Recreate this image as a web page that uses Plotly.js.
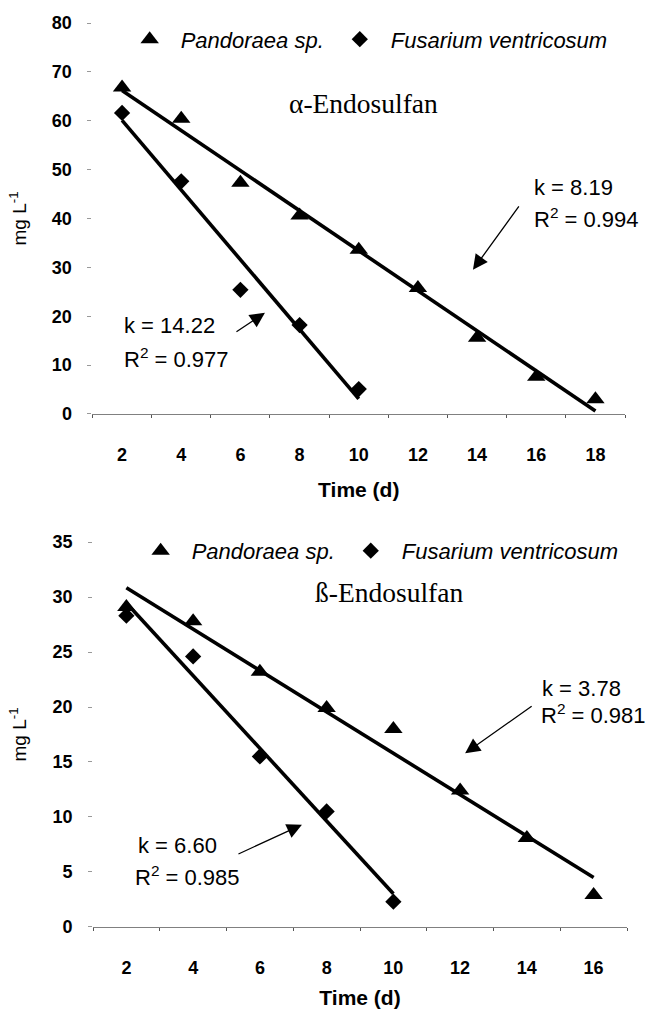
<!DOCTYPE html>
<html>
<head>
<meta charset="utf-8">
<script src="https://cdn.plot.ly/plotly-3.0.1.min.js"></script>
<style>html,body{margin:0;padding:0;background:#fff;}</style>
</head>
<body>
<div id="chart" style="width:645px;height:1009px;"></div>
<script>
// ---- data ----
const seriesNames = ['Pandoraea sp.', 'Fusarium ventricosum'];

const alphaTimePandoraea = [2, 4, 6, 8, 10, 12, 14, 16, 18];
const alphaPandoraea     = [66.8, 60.4, 47.3, 40.6, 33.6, 25.8, 15.6, 7.6, 3.0];
const alphaTimeFusarium  = [2, 4, 6, 8, 10];
const alphaFusarium      = [61.6, 47.6, 25.4, 18.2, 5.1];

const betaTimePandoraea  = [2, 4, 6, 8, 10, 12, 14, 16];
const betaPandoraea      = [29.1, 27.8, 23.2, 19.9, 18.0, 12.4, 8.1, 2.9];
const betaTimeFusarium   = [2, 4, 6, 8, 10];
const betaFusarium       = [28.3, 24.6, 15.5, 10.5, 2.3];

const alphaTicks = [2, 4, 6, 8, 10, 12, 14, 16, 18];
const betaTicks  = [2, 4, 6, 8, 10, 12, 14, 16];
const alphaYTicks = [0, 10, 20, 30, 40, 50, 60, 70, 80];
const betaYTicks  = [0, 5, 10, 15, 20, 25, 30, 35];

const panelTitles = ['\u03b1-Endosulfan', '\u00df-Endosulfan'];
const alphaStats = {pand: ['k = 8.19', 'R<sup>2</sup> = 0.994'], fus: ['k = 14.22', 'R<sup>2</sup> = 0.977']};
const betaStats  = {pand: ['k = 3.78', 'R<sup>2</sup> = 0.981'], fus: ['k = 6.60', 'R<sup>2</sup> = 0.985']};

// ---- helpers ----
function fit(xs, ys) {
  const n = xs.length;
  const mx = xs.reduce((a, b) => a + b, 0) / n;
  const my = ys.reduce((a, b) => a + b, 0) / n;
  let sxy = 0, sxx = 0;
  for (let i = 0; i < n; i++) { sxy += (xs[i] - mx) * (ys[i] - my); sxx += (xs[i] - mx) * (xs[i] - mx); }
  const b = sxy / sxx, a = my - b * mx;
  const x0 = xs[0], x1 = xs[n - 1];
  return {x: [x0, x1], y: [a + b * x0, a + b * x1]};
}
function edges(ticks) { const e = ticks.map(t => t - 1); e.push(ticks[ticks.length - 1] + 1); return e; }

const SANS = '"Liberation Sans", Arial, sans-serif';
const SERIF = '"Liberation Serif", "Times New Roman", serif';

function markerTrace(x, y, name, sym, size, xa, ya, leg) {
  return {x: x, y: y, name: name, type: 'scatter', mode: 'markers', xaxis: xa, yaxis: ya, legend: leg,
          marker: {symbol: sym, size: size, color: '#000'}, cliponaxis: false};
}
function lineTrace(f, xa, ya) {
  return {x: f.x, y: f.y, type: 'scatter', mode: 'lines', xaxis: xa, yaxis: ya, showlegend: false,
          line: {color: '#000', width: 3.6}, hoverinfo: 'skip'};
}

const data = [
  lineTrace(fit(alphaTimePandoraea, alphaPandoraea), 'x', 'y'),
  lineTrace(fit(alphaTimeFusarium, alphaFusarium), 'x', 'y'),
  markerTrace(alphaTimePandoraea, alphaPandoraea, seriesNames[0], 'triangle-up', 16, 'x', 'y', 'legend'),
  markerTrace(alphaTimeFusarium, alphaFusarium, seriesNames[1], 'diamond', 12.5, 'x', 'y', 'legend'),
  lineTrace(fit(betaTimePandoraea, betaPandoraea), 'x2', 'y2'),
  lineTrace(fit(betaTimeFusarium, betaFusarium), 'x2', 'y2'),
  markerTrace(betaTimePandoraea, betaPandoraea, seriesNames[0], 'triangle-up', 16, 'x2', 'y2', 'legend2'),
  markerTrace(betaTimeFusarium, betaFusarium, seriesNames[1], 'diamond', 12.5, 'x2', 'y2', 'legend2')
];

function xAxis(ticks, domain, anchor) {
  return {
    domain: domain, anchor: anchor, range: [ticks[0] - 1, ticks[ticks.length - 1] + 1],
    tickmode: 'array', tickvals: ticks, ticktext: ticks.map(String), ticks: '',
    tickfont: {family: SANS, size: 18, weight: 'bold', color: '#000'},
    ticklabelstandoff: 24,
    showline: true, linecolor: '#808080', linewidth: 1.2,
    showgrid: false, zeroline: false,
    minor: {tickvals: edges(ticks), ticks: 'outside', ticklen: 3, tickcolor: '#555', tickwidth: 1, showgrid: false},
    title: {text: 'Time (d)', font: {family: SANS, size: 21, weight: 'bold', color: '#000'}, standoff: 18}
  };
}
function longTickAxis(ticks, overlay, anchor, longVals) {
  return {overlaying: overlay, anchor: anchor, side: 'bottom', range: [ticks[0] - 1, ticks[ticks.length - 1] + 1],
          tickmode: 'array', tickvals: longVals, ticks: 'outside', ticklen: 7, tickwidth: 1.2, tickcolor: '#444',
          showticklabels: false, showline: false, showgrid: false, zeroline: false};
}
function yAxis(ticks, domain, anchor) {
  return {
    domain: domain, anchor: anchor, range: [ticks[0], ticks[ticks.length - 1]],
    tickmode: 'array', tickvals: ticks, ticks: 'outside', ticklen: 4, tickcolor: '#999', tickwidth: 1,
    tickfont: {family: SANS, size: 18, weight: 'bold', color: '#000'},
    ticklabelstandoff: 12,
    showline: false, showgrid: false, zeroline: false,
    title: {text: 'mg L<sup>-1</sup>', font: {family: SANS, size: 19, color: '#000'}, standoff: 20}
  };
}

const statFont = {family: SANS, size: 22, color: '#000'};
function txt(text, x, y, xr, yr) {
  return {text: text, x: x, y: y, xref: xr, yref: yr, xanchor: 'left', yanchor: 'middle', showarrow: false, font: statFont};
}
function arrow(x, y, ax, ay, xr, yr) {
  return {text: '', x: x, y: y, ax: ax, ay: ay, xref: xr, yref: yr, showarrow: true,
          arrowhead: 2, arrowsize: 2.3, arrowwidth: 1.3, arrowcolor: '#000', standoff: 0};
}

const annotations = [
  {text: panelTitles[0], x: 0.564, y: 0.915, xref: 'paper', yref: 'paper', showarrow: false,
   font: {family: SERIF, size: 27.5, color: '#000'}},
  {text: panelTitles[1], x: 0.603, y: 0.413, xref: 'paper', yref: 'paper', showarrow: false,
   font: {family: SERIF, size: 27.5, color: '#000'}},
  txt(alphaStats.pand[0], 15.85, 46.4, 'x', 'y'),
  txt(alphaStats.pand[1], 15.85, 40.1, 'x', 'y'),
  arrow(13.86, 29.5, 47, -65, 'x', 'y'),
  txt(alphaStats.fus[0], 2.0, 18.2, 'x', 'y'),
  txt(alphaStats.fus[1], 2.0, 11.5, 'x', 'y'),
  arrow(6.83, 20.7, -30, 20, 'x', 'y'),
  txt(betaStats.pand[0], 14.4, 21.7, 'x2', 'y2'),
  txt(betaStats.pand[1], 14.35, 19.4, 'x2', 'y2'),
  arrow(12.15, 15.8, 68, -48, 'x2', 'y2'),
  txt(betaStats.fus[0], 2.3, 7.4, 'x2', 'y2'),
  txt(betaStats.fus[1], 2.2, 4.6, 'x2', 'y2'),
  arrow(7.26, 9.3, -65, 30, 'x2', 'y2')
];

const legendFont = {family: SANS, size: 22, style: 'italic', color: '#000'};
const layout = {
  width: 645, height: 1009,
  margin: {l: 0, r: 0, t: 0, b: 0},
  paper_bgcolor: '#fff', plot_bgcolor: '#fff',
  showlegend: true,
  xaxis: xAxis(alphaTicks, [0.1434, 0.9690], 'y'),
  yaxis: yAxis(alphaYTicks, [0.5897, 0.9772], 'x'),
  xaxis2: xAxis(betaTicks, [0.1442, 0.9721], 'y2'),
  yaxis2: yAxis(betaYTicks, [0.0813, 0.4628], 'x2'),
  xaxis3: longTickAxis(alphaTicks, 'x', 'y', [3, 7, 11, 17]),
  xaxis4: longTickAxis(betaTicks, 'x2', 'y2', [3, 7, 11]),
  legend: {orientation: 'h', x: 0.184, y: 0.961, xanchor: 'left', yanchor: 'middle', font: legendFont,
           itemwidth: 52, bgcolor: 'rgba(0,0,0,0)', borderwidth: 0},
  legend2: {orientation: 'h', x: 0.201, y: 0.454, xanchor: 'left', yanchor: 'middle', font: legendFont,
           itemwidth: 52, bgcolor: 'rgba(0,0,0,0)', borderwidth: 0},
  annotations: annotations
};

Plotly.newPlot('chart', data, layout, {displayModeBar: false, staticPlot: true});
</script>
</body>
</html>
